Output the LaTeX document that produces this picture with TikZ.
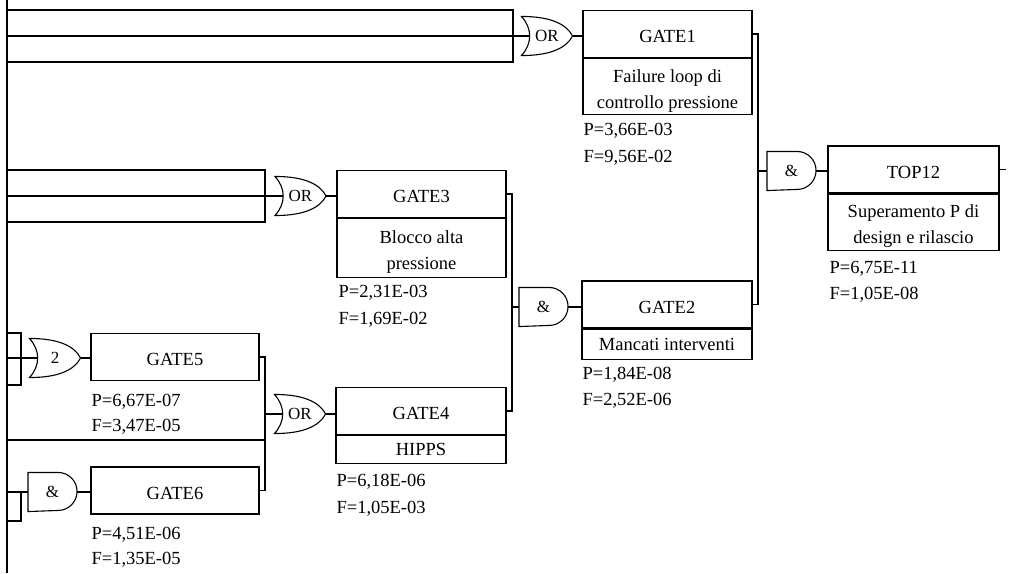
\documentclass[tikz,border=0pt]{standalone}
\usepackage{fontspec}
\setmainfont{Liberation Serif}
\usepackage{tikz}
\usetikzlibrary{positioning, calc}
\newcommand{\boxfont}{\fontsize{18.5}{26}\selectfont}
\newcommand{\gatefont}{\fontsize{17}{20}\selectfont}
\newcommand{\tstrut}{\rule{0pt}{21pt}}
\newcommand{\orshape}[1]{%
  \draw (#1.north west) .. controls ($(#1.north west)+(30,0)$) and ($(#1.north east)+(-6,8)$) .. (#1.east)
        .. controls ($(#1.south east)+(-6,-8)$) and ($(#1.south west)+(30,0)$) .. (#1.south west)
        .. controls ($(#1.south west)+(11,-12)$) and ($(#1.north west)+(11,12)$) .. cycle;}
\newcommand{\andshape}[1]{%
  \draw (#1.north west) -- ($(#1.north east)+(-19,0)$) arc[start angle=90, end angle=-90, radius=19pt] -- (#1.south west) -- cycle;}

\begin{document}
\begin{tikzpicture}[x=1pt, y=-1pt, line width=1.1pt,
    evt/.style={draw, minimum width=169pt, minimum height=47pt, inner sep=2pt, text height=17.5pt, text depth=0pt, font=\boxfont},
    desc/.style={draw, minimum width=169pt, inner sep=2pt, align=center, font=\boxfont},
    orgate/.style={minimum width=50pt, minimum height=38pt, inner sep=0pt, font=\gatefont},
    andgate/.style={minimum width=48pt, minimum height=38pt, inner sep=0pt, font=\gatefont},
    val/.style={anchor=base west, inner sep=0pt, font=\boxfont}]
  \useasboundingbox (0,0) rectangle (1011,573);

  % event boxes
  \node[evt] (g1) at (667.5,34) {GATE1};
  \node[desc, minimum height=56pt, below=0pt of g1] (g1d) {\tstrut Failure loop di\\controllo pressione};
  \node[evt, minimum width=171pt] (top) at (913.5,169.5) {TOP12};
  \node[desc, minimum width=171pt, minimum height=56pt, below=0pt of top] (topd) {\tstrut Superamento P di\\design e rilascio};
  \node[evt] (g3) at (421.5,194) {GATE3};
  \node[desc, minimum height=59pt, below=0pt of g3] (g3d) {\tstrut Blocco alta\\pressione};
  \node[evt, minimum width=170pt] (g2) at (667,304.5) {GATE2};
  \node[desc, minimum width=170pt, minimum height=30pt, below=0pt of g2] (g2d) {Mancati interventi};
  \node[evt, minimum width=170pt] (g4) at (421,411) {GATE4};
  \node[desc, minimum width=170pt, minimum height=28pt, below=0pt of g4] (g4d) {HIPPS};
  \node[evt, minimum width=168pt] (g5) at (175,357) {GATE5};
  \node[evt, minimum width=168pt] (g6) at (175,490.5) {GATE6};

  % values
  \node[val] (g1p) at (583,135) {P=3,66E-03};
  \node[val] (g1f) at (583,162) {F=9,56E-02};
  \node[val] (topp) at (829,273) {P=6,75E-11};
  \node[val] (topf) at (829,299) {F=1,05E-08};
  \node[val] (g3p) at (338,297) {P=2,31E-03};
  \node[val] (g3f) at (338,324) {F=1,69E-02};
  \node[val] (g2p) at (582,379) {P=1,84E-08};
  \node[val] (g2f) at (582,405) {F=2,52E-06};
  \node[val] (g4p) at (336,486) {P=6,18E-06};
  \node[val] (g4f) at (336,513) {F=1,05E-03};
  \node[val] (g5p) at (91,406) {P=6,67E-07};
  \node[val] (g5f) at (91,431) {F=3,47E-05};
  \node[val] (g6p) at (91,539) {P=4,51E-06};
  \node[val] (g6f) at (91,564) {F=1,35E-05};

  % gates
  \node[orgate] (or1) at (547,36) {OR};
  \node[andgate] (andt) at (791.5,171) {\&};
  \node[orgate] (or3) at (300.5,196) {OR};
  \node[andgate] (and2) at (543.5,307) {\&};
  \node[orgate] (or4) at (300,414) {OR};
  \node[orgate] (or5) at (55,358) {2};
  \node[andgate] (and6) at (52.5,492) {\&};
  \orshape{or1}
  \andshape{andt}
  \orshape{or3}
  \andshape{and2}
  \orshape{or4}
  \orshape{or5}
  \andshape{and6}

  % left trunk and cut inputs
  \coordinate (trtop) at (7,0);
  \coordinate (trbot) at (7,573);
  \draw (trtop) -- (trbot);
  \coordinate (a1) at (513,10);
  \coordinate (a2) at (513,62);
  \draw (trtop |- a1) -- (a1) -- (a2) -- (trtop |- a2);
  \draw (trtop |- or1.west) -- ($(or1.west)+(8,0)$);
  \coordinate (b1) at (265,170);
  \coordinate (b2) at (265,222);
  \draw (trtop |- b1) -- (b1) -- (b2) -- (trtop |- b2);
  \draw (trtop |- or3.west) -- ($(or3.west)+(8,0)$);
  \coordinate (c1) at (21,333);
  \coordinate (c2) at (21,385);
  \draw (trtop |- c1) -- (c1) -- (c2) -- (trtop |- c2);
  \draw (trtop |- or5.west) -- ($(or5.west)+(8,0)$);
  \coordinate (d1) at (265,440);
  \draw (trtop |- d1) -- (d1);
  \coordinate (e1) at (21,521);
  \draw (trtop |- and6.west) -- (and6.west);
  \draw (e1 |- and6.west) -- (e1) -- (trtop |- e1);

  % buses
  \coordinate (bus4) at (265,0);
  \draw (g5.east) -| (bus4 |- g6.east) -- (g6.east);
  \draw (bus4 |- or4.west) -- ($(or4.west)+(8,0)$);
  \coordinate (bus2) at (512,0);
  \draw (g3.east) -| (bus2 |- g4.east) -- (g4.east);
  \draw (bus2 |- and2.west) -- (and2.west);
  \coordinate (bust) at (758,0);
  \draw (g1.east) -| (bust |- g2.east) -- (g2.east);
  \draw (bust |- andt.west) -- (andt.west);

  % gate outputs
  \draw (or1.east) -- (or1.east -| g1.west);
  \draw (andt.east) -- (andt.east -| top.west);
  \draw (or3.east) -- (or3.east -| g3.west);
  \draw (and2.east) -- (and2.east -| g2.west);
  \draw (or4.east) -- (or4.east -| g4.west);
  \draw (or5.east) -- (or5.east -| g5.west);
  \draw (and6.east) -- (and6.east -| g6.west);
  \coordinate (topout) at (1006,0);
  \draw (top.east) -- (topout |- top.east);
\end{tikzpicture}
\end{document}
